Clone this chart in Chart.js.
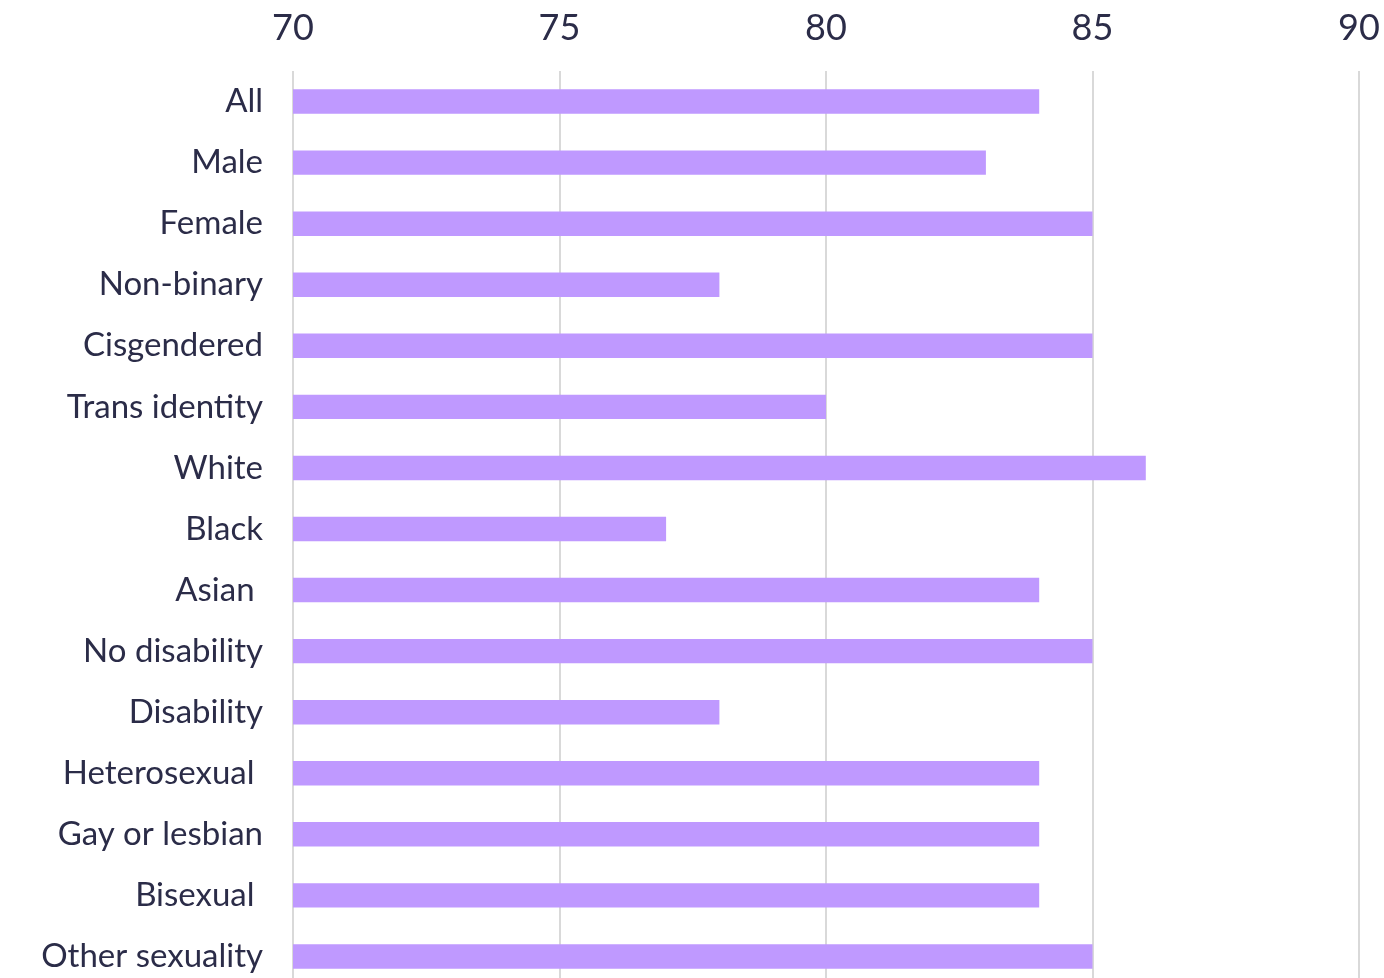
<!DOCTYPE html>
<html>
<head>
<meta charset="utf-8">
<script src="https://cdn.jsdelivr.net/npm/chart.js@4"></script>
<style>
  html, body { margin: 0; padding: 0; background: #fff; overflow: hidden; }
</style>
</head>
<body>
<canvas id="barchart" width="1384" height="987"></canvas>
<script>
const groups = [
  "All",
  "Male",
  "Female",
  "Non-binary",
  "Cisgendered",
  "Trans identity",
  "White",
  "Black",
  "Asian ",
  "No disability",
  "Disability",
  "Heterosexual ",
  "Gay or lesbian",
  "Bisexual ",
  "Other sexuality",
];
const scores = [84, 83, 85, 78, 85, 80, 86, 77, 84, 85, 78, 84, 84, 84, 85];
const xTicks = [70, 75, 80, 85, 90];

const textColor = "#2b2c48";

const ctx = document.getElementById("barchart").getContext("2d");
const barChart = new Chart(ctx, {
  type: "bar",
  data: {
    labels: groups,
    datasets: [
      {
        data: scores,
        backgroundColor: "#bf99ff",
        borderWidth: 0,
        barPercentage: 0.4,
        categoryPercentage: 1,
      },
    ],
  },
  options: {
    indexAxis: "y",
    responsive: false,
    animation: false,
    layout: { padding: { left: 0, right: 25, top: 0, bottom: 0 } },
    plugins: { legend: { display: false }, tooltip: { enabled: false } },
    scales: {
      x: {
        position: "top",
        min: 70,
        max: 90,
        afterBuildTicks: (scale) => {
          scale.ticks = xTicks.map((v) => ({ value: v }));
        },
        afterFit: (scale) => {
          scale.height = 71;
          scale.paddingLeft = 0;
          scale.paddingRight = 0;
        },
        border: { display: false },
        grid: { color: "#d9d9d9", lineWidth: 2, drawTicks: false },
        ticks: {
          color: textColor,
          font: { family: "Lato", size: 36 },
          padding: 21,
          maxRotation: 0,
        },
      },
      y: {
        afterFit: (scale) => {
          scale.width = 293;
          scale.paddingTop = 0;
          scale.paddingBottom = 0;
        },
        border: { display: false },
        grid: { display: false, drawTicks: false },
        ticks: {
          color: textColor,
          font: { family: "Lato", size: 33 },
          padding: 30,
        },
      },
    },
  },
});
</script>
</body>
</html>
